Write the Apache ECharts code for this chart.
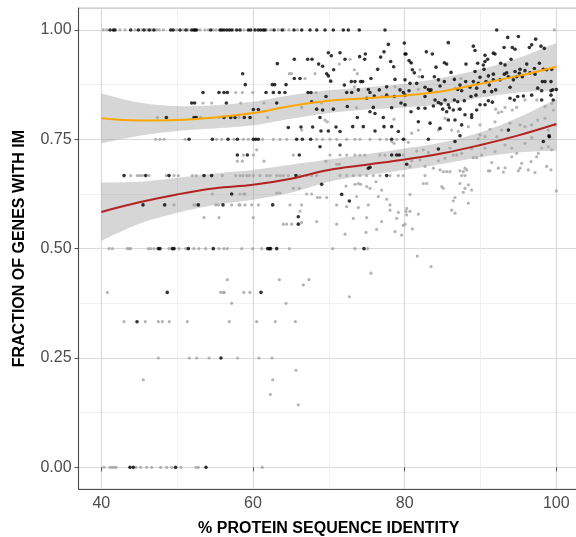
<!DOCTYPE html>
<html>
<head>
<meta charset="utf-8">
<script src="https://cdn.jsdelivr.net/npm/echarts@6/dist/echarts.min.js"></script>
<style>
  html, body { margin: 0; padding: 0; background: #fff; }
  #chart { width: 576px; height: 537px; }
</style>
</head>
<body>
<div id="chart"></div>
<script>
const FONT = 'Liberation Sans, Arial, Helvetica, sans-serif';

// axis ranges and tick labels
const xRange = [37, 103];
const yRange = [-0.05, 1.05];
const xTicks = [40, 60, 80, 100];
const yTicks = [0, 0.25, 0.5, 0.75, 1];

// smooth fits
const fitX = [40, 45, 50, 55, 60, 65, 70, 75, 80, 85, 90, 95, 100];
const orangeFit = [0.798, 0.793, 0.794, 0.800, 0.810, 0.826, 0.838, 0.844, 0.850, 0.860, 0.877, 0.895, 0.916];
const orangeLo = [0.741, 0.758, 0.769, 0.775, 0.782, 0.797, 0.810, 0.818, 0.823, 0.830, 0.845, 0.857, 0.862];
const orangeHi = [0.855, 0.834, 0.826, 0.828, 0.836, 0.851, 0.862, 0.869, 0.877, 0.891, 0.910, 0.936, 0.970];
const redFit = [0.584, 0.606, 0.624, 0.638, 0.646, 0.660, 0.680, 0.692, 0.704, 0.718, 0.737, 0.759, 0.785];
const redLo = [0.518, 0.557, 0.582, 0.600, 0.612, 0.628, 0.653, 0.668, 0.680, 0.694, 0.709, 0.720, 0.724];
const redHi = [0.651, 0.653, 0.662, 0.672, 0.680, 0.692, 0.704, 0.716, 0.729, 0.743, 0.766, 0.800, 0.842];

// black points
const blackPts = [
  [41.15,1],[41.58,1],[41.81,1],[43.88,1],[44.88,1],[45.63,1],[46.33,1],[46.95,1],[49.15,1],[49.49,1],[50.38,1],
  [51.17,1],[51.92,1],[52.22,1],[52.36,1],[52.58,1],[54.43,1],[55.65,1],[55.88,1],[56.18,1],[56.54,1],[56.88,1],
  [57.2,1],[57.86,1],[58.29,1],[59.39,1],[59.7,1],[60.27,1],[60.7,1],[61.02,1],[61.36,1],[61.59,1],[62.78,1],
  [63.85,1],[65.41,1],[66.43,1],[67.52,1],[68.41,1],[69.5,1],[70.6,1],[71.91,1],[72.57,1],[74.02,1],[77.41,1],[92.14,1],
  [77.85,0.967],[79.96,0.970],[80.18,0.945],[69.94,0.948],[71.48,0.948],[70.33,0.941],[74.07,0.939],[74.82,0.945],
  [74.73,0.933],[77.28,0.950],[76.84,0.938],[78.16,0.928],[63.21,0.923],[65.45,0.933],[67.21,0.933],[67.78,0.933],
  [68.66,0.922],[69.19,0.917],[72.14,0.933],[70.64,0.909],[78.55,0.916],[76.44,0.910],[58.64,0.9],[69.72,0.9],
  [69.94,0.895],[65.45,0.889],[66.2,0.889],[70.25,0.883],[72.97,0.882],[73.45,0.882],[74.2,0.882],[74.47,0.882],
  [75.56,0.889],[78.73,0.887],[80.05,0.886],[58.99,0.875],[62.55,0.875],[62.86,0.875],[64.36,0.875],[61.72,0.857],
  [62.69,0.857],[63.48,0.857],[64.22,0.857],[67.26,0.857],[67.65,0.857],[72.05,0.874],[73.9,0.863],[75.21,0.864],
  [75.43,0.857],[76.66,0.863],[77.63,0.87],[79.39,0.863],[79.83,0.857],[72.36,0.857],[73.02,0.857],[69.63,0.848],
  [75.0,0.844],[76.0,0.849],[77.63,0.851],[78.64,0.848],[63.13,0.833],[67.74,0.836],[68.4,0.819],[69.19,0.817],
  [70.6,0.819],[72.44,0.825],[75.87,0.823],[75.43,0.813],[78.29,0.822],[79.52,0.833],[60.05,0.818],[60.71,0.818],
  [58.86,0.8],[59.61,0.8],[68.84,0.8],[73.76,0.8],[76.09,0.809],[77.19,0.8],[64.66,0.777],[66.33,0.778],[67.87,0.778],
  [68.97,0.769],[69.94,0.769],[70.95,0.778],[71.48,0.768],[73.15,0.779],[74.55,0.779],[76.09,0.769],[77.28,0.779],
  [78.29,0.779],[79.17,0.768],
  [60.05,0.75],[60.36,0.75],[60.71,0.75],[65.76,0.75],[66.51,0.75],[67.61,0.75],[78.29,0.75],[79.83,0.75],
  [51.57,0.75],[54.64,0.75],[56.71,0.75],[57.94,0.75],
  [48.58,0.8],[52.22,0.8],[52.53,0.8],[56.18,0.8],[57.06,0.8],[57.63,0.8],
  [51.92,0.833],[52.31,0.833],[56.49,0.833],[53.41,0.857],[55.52,0.857],[56.18,0.857],[56.62,0.857],
  [57.94,0.714],[43.0,0.667],[45.85,0.667],[48.93,0.667],[53.54,0.667],[54.55,0.667],[57.19,0.625],
  [45.5,0.6],[48.36,0.6],[52.8,0.6],[56.05,0.6],
  [47.52,0.5],[47.74,0.5],[49.37,0.5],[49.59,0.5],[51.48,0.5],[54.77,0.5],[61.94,0.5],[62.16,0.5],[62.33,0.5],[63.13,0.5],[74.64,0.5],
  [48.7,0.4],[61.06,0.4],[44.71,0.333],[55.78,0.25],
  [43.78,0],[44.22,0],[49.8,0],[53.8,0],
  [68.84,0.733],[71.48,0.737],[59.26,0.714],[66.11,0.714],[78.29,0.714],[78.95,0.714],[79.3,0.714],[75.21,0.684],
  [75.43,0.686],[77.63,0.667],[65.67,0.667],[69.06,0.647],[71.7,0.624],[72.71,0.609],[62.6,0.6],[65.98,0.573],[65.98,0.556],
  [83.13,0.75],[87.3,0.758],[86.64,0.745],[84.45,0.728],[98.29,0.745],[99.04,0.758],[80.27,0.693],
  [85.76,0.971],[89.06,0.963],[89.28,0.953],[93.59,0.983],[95.0,0.985],[94.2,0.960],[94.56,0.956],[96.45,0.960],
  [96.75,0.966],[97.28,0.979],[97.98,0.963],[98.42,0.958],[93.11,0.960],[82.86,0.950],[83.65,0.945],[90.6,0.942],
  [91.7,0.947],[91.92,0.945],[90.95,0.933],[90.6,0.928],[80.05,0.945],[80.58,0.930],[80.84,0.925],[85.24,0.925],
  [85.54,0.922],[89.63,0.924],[90.38,0.92],[90.47,0.91],[92.67,0.924],[93.24,0.92],[94.03,0.933],[88.09,0.922],
  [84.14,0.915],[95.22,0.91],[96.1,0.922],[97.77,0.924],[97.11,0.912],[81.02,0.909],[81.28,0.902],[82.34,0.893],
  [86.12,0.903],[89.28,0.905],[89.94,0.892],[91.04,0.895],[91.7,0.899],[93.15,0.899],[93.46,0.902],[94.56,0.905],
  [94.78,0.893],[95.13,0.901],[95.87,0.907],[96.53,0.902],[97.19,0.899],[98.29,0.91],[98.73,0.909],[99.39,0.91],
  [83.92,0.893],[84.45,0.886],[86.56,0.887],[85.24,0.882],[87.3,0.874],[88.05,0.882],[89.06,0.882],[89.72,0.878],
  [90.73,0.882],[91.17,0.874],[91.7,0.886],[92.58,0.886],[93.68,0.893],[94.34,0.886],[95.52,0.893],[98.16,0.882],
  [98.51,0.882],[99.3,0.882],[80.71,0.878],[81.59,0.878],[82.69,0.869],[83.13,0.864],[83.48,0.863],[83.35,0.859],
  [84.67,0.872],[87.0,0.864],[87.52,0.861],[88.62,0.869],[89.5,0.867],[90.51,0.859],[91.48,0.859],[92.01,0.863],
  [93.9,0.869],[97.55,0.867],[98.07,0.861],[99.3,0.861],[100,0.864],[80.58,0.861],[80.05,0.851],[82.69,0.848],
  [84.01,0.84],[84.45,0.834],[85.33,0.84],[85.76,0.829],[86.56,0.84],[87.0,0.836],[87.87,0.838],[88.75,0.848],
  [89.41,0.851],[91.04,0.838],[91.57,0.835],[93.9,0.844],[94.47,0.84],[94.91,0.848],[95.66,0.849],[96.75,0.851],
  [98.07,0.84],[99.3,0.851],[99.52,0.863],[81.81,0.821],[82.69,0.821],[83.79,0.826],[84.8,0.831],[85.02,0.819],
  [85.54,0.813],[85.9,0.822],[86.42,0.817],[87.3,0.819],[87.96,0.806],[88.84,0.806],[89.5,0.817],[89.94,0.829],
  [90.6,0.829],[81.81,0.79],[83.35,0.787],[84.67,0.775],[85.76,0.794],[86.64,0.794],[87.52,0.783],[88.84,0.8],
  [80.84,0.813],[80.05,0.829],[93.68,0.771],[99.08,0.756],[99.6,0.84]
];

// grey points
const greyPts = [
  [40.26,1],[40.71,1],[42.47,1],[43.13,1],[44.44,1],[45.33,1],[45.99,1],[46.65,1],[47.31,1],[47.65,1],[48.18,1],
  [49.94,1],[50.81,1],[51.47,1],[53.02,1],[53.68,1],[54.11,1],[54.77,1],[55.13,1],[57.41,1],[58.82,1],[61.81,1],
  [62.34,1],[63.34,1],[64.1,1],[64.75,1],[65.85,1],[99.74,1],
  [71.39,0.922],[72.8,0.933],[64.8,0.9],[65.1,0.9],[68.18,0.9],[73.37,0.909],[73.76,0.9],[66.86,0.889],[59.96,0.857],
  [68.31,0.857],[73.37,0.87],[78.73,0.87],[76.97,0.848],[61.45,0.833],[66.42,0.823],[69.06,0.833],[73.67,0.822],
  [61.94,0.8],[69.5,0.794],[78.6,0.796],[66.42,0.771],[69.8,0.79],
  [58.73,0.75],[59.39,0.75],[61.28,0.75],[62.69,0.75],[63.56,0.75],[64.44,0.75],[68.4,0.75],[69.19,0.75],[70.16,0.75],
  [71.04,0.75],[72.36,0.75],[73.45,0.75],[74.11,0.75],[75.43,0.75],[76.75,0.75],[77.63,0.75],[78.95,0.75],[80.05,0.75],
  [47.17,0.75],[47.74,0.75],[48.27,0.75],[51.04,0.75],[55.21,0.75],[55.87,0.75],[57.5,0.75],
  [47.39,0.8],[53.1,0.8],[55.52,0.8],[58.16,0.8],[53.41,0.833],[54.55,0.833],[58.38,0.833],[57.72,0.857],[58.6,0.857],
  [57.94,0.7],[58.6,0.7],
  [43.87,0.667],[44.75,0.667],[45.06,0.667],[45.41,0.667],[46.29,0.667],[48.58,0.667],[49.59,0.667],[50.16,0.667],
  [52.0,0.667],[52.53,0.667],[55.96,0.667],[57.72,0.667],[58.69,0.667],
  [54.64,0.625],[58.8,0.625],[49.59,0.6],[52.22,0.6],[52.53,0.6],[55.08,0.6],[55.43,0.6],[57.19,0.6],[58.16,0.6],
  [53.54,0.571],[55.52,0.571],
  [41.02,0.5],[41.46,0.5],[43.43,0.5],[43.65,0.5],[43.87,0.5],[46.2,0.5],[46.51,0.5],[46.95,0.5],[48.93,0.5],
  [50.25,0.5],[51.13,0.5],[52.22,0.5],[52.88,0.5],[53.76,0.5],[55.52,0.5],[56.18,0.5],[56.62,0.5],
  [58.51,0.5],[59.96,0.5],[61.15,0.5],[64.8,0.5],[70.51,0.5],[73.45,0.5],[75.12,0.5],
  [40.79,0.4],[55.74,0.4],[56.1,0.4],[56.22,0.4],[56.62,0.429],[58.8,0.4],[59.6,0.4],[63.48,0.429],[57.19,0.375],
  [64.36,0.375],[42.99,0.333],[45.8,0.333],[47.52,0.333],[48.05,0.333],[48.97,0.333],[51.34,0.333],[56.88,0.333],
  [60.49,0.333],[62.95,0.333],[65.59,0.333],[47.52,0.25],[51.61,0.25],[52.57,0.25],[54.2,0.25],[57.98,0.25],
  [60.79,0.25],[62.51,0.25],[45.54,0.2],[65.67,0.222],[62.6,0.2],[62.29,0.167],[65.98,0.143],
  [81.67,0.483],[83.48,0.459],[75.56,0.444],[67.39,0.429],[66.64,0.417],[72.71,0.39],
  [40.35,0],[41.15,0],[41.45,0],[41.72,0],[41.94,0],[44.57,0],[45.19,0],[45.98,0],[46.64,0],[47.83,0],[48.62,0],
  [49.28,0],[50.51,0],[52.49,0],[52.79,0],[61.23,0],
  [78.29,0.745],[78.6,0.741],[60.49,0.726],
  [58.73,0.714],[60.05,0.714],[65.32,0.714],[70.16,0.714],[71.48,0.714],[72.36,0.714],[73.45,0.714],[74.11,0.714],
  [74.77,0.714],[76.75,0.714],[77.41,0.714],[79.83,0.714],
  [61.45,0.7],[69.63,0.7],[71.04,0.693],[71.39,0.693],
  [58.29,0.667],[59.17,0.667],[59.52,0.667],[60.05,0.667],[60.93,0.667],[61.81,0.667],[62.25,0.667],[63.13,0.667],
  [63.56,0.667],[64.0,0.667],[64.66,0.667],[66.2,0.667],[67.08,0.667],[67.74,0.667],[68.4,0.667],[71.48,0.667],
  [72.36,0.667],[73.23,0.667],[74.11,0.667],[74.99,0.667],[75.87,0.667],[76.75,0.667],[78.07,0.667],[79.17,0.667],[79.83,0.667],
  [73.45,0.647],[73.89,0.649],[74.2,0.647],[74.99,0.642],[75.43,0.638],[76.22,0.653],[65.32,0.638],[66.11,0.638],
  [72.27,0.643],[76.97,0.634],[63.13,0.627],[63.56,0.627],[67.08,0.625],[67.74,0.625],[58.29,0.625],[58.95,0.625],
  [68.49,0.617],[68.84,0.617],[69.72,0.617],[73.67,0.619],[76.53,0.619],[77.63,0.613],
  [58.29,0.6],[58.95,0.6],[59.83,0.6],[60.71,0.6],[64.88,0.6],[66.42,0.6],[71.04,0.6],[75.21,0.6],[78.07,0.6],
  [66.2,0.586],[72.36,0.596],[73.89,0.594],[60.05,0.571],[78.07,0.588],[79.17,0.583],[80.18,0.585],[64.0,0.556],
  [64.44,0.556],[65.1,0.556],[66.42,0.56],[68.4,0.562],[71.04,0.556],[73.23,0.569],[74.99,0.571],[76.97,0.562],
  [78.95,0.569],[78.73,0.539],[79.83,0.553],[79.61,0.531],[72.14,0.533],[74.9,0.537],[76.31,0.544],
  [80.71,0.688],[80.93,0.701],[80.49,0.743],[81.59,0.723],[82.47,0.726],[83.13,0.72],[82.03,0.703],[82.69,0.688],
  [83.79,0.684],[84.67,0.68],[85.1,0.676],[85.54,0.676],[85.98,0.676],[86.42,0.714],[86.86,0.714],[87.52,0.718],
  [84.45,0.701],[85.33,0.707],[85.98,0.73],[87.96,0.684],[87.74,0.676],[87.3,0.678],[88.18,0.68],[87.52,0.667],
  [87.96,0.667],[82.69,0.667],[82.47,0.649],[82.91,0.649],[84.89,0.642],[85.1,0.638],[87.3,0.649],[87.96,0.638],
  [88.4,0.646],[88.84,0.634],[87.74,0.629],[80.71,0.624],[86.64,0.617],[86.42,0.609],[88.4,0.604],[86.2,0.588],
  [86.64,0.581],[80.27,0.592],[80.71,0.585],[80.27,0.577],[81.81,0.579],[80.05,0.556],[81.02,0.545],[88.84,0.728],
  [89.06,0.708],[89.5,0.708],[90.16,0.714],[90.6,0.73],[91.48,0.697],[91.92,0.722],[92.36,0.684],[93.02,0.675],
  [93.24,0.685],[91.04,0.678],[91.26,0.678],[93.24,0.737],[94.12,0.73],[94.12,0.71],[94.78,0.718],[95.22,0.684],
  [95.0,0.678],[95.44,0.695],[96.31,0.68],[96.67,0.699],[97.19,0.674],[97.41,0.71],[97.63,0.718],[98.07,0.73],
  [98.73,0.688],[99.3,0.68],[98.95,0.733],[99.39,0.726],[95.87,0.741],[96.75,0.754],[92.14,0.756],[90.6,0.756],
  [89.72,0.751],[89.94,0.76],[100,0.632],
  [80.93,0.924],[82.03,0.909],[81.9,0.893],[87.43,0.889],[86.64,0.867],[81.81,0.864],[87.08,0.819],[85.33,0.798],
  [92.01,0.819],[92.8,0.813],[93.24,0.823],[92.36,0.811],[94.2,0.817],[94.78,0.823],[95.87,0.84],[97.41,0.84],
  [98.51,0.825],[98.51,0.798],[99.39,0.832],[99.61,0.817],[97.55,0.794],[96.75,0.783],[95.87,0.779],[95.22,0.783],
  [93.9,0.787],[91.92,0.79],[91.26,0.773],[89.94,0.783],[88.4,0.779],[87.08,0.768],[86.2,0.771],[81.81,0.771],
  [80.93,0.764],[84.45,0.771],[92.8,0.771],[99.83,0.783],[98.95,0.771]
];

// panel geometry: the plotting panel, the x-label band and the y-label band
const panel = { left: 78.55, top: 8.1, width: 500.5, height: 481.1 };
const xSpan = xRange[1] - xRange[0];
const ySpan = yRange[1] - yRange[0];
const xGrid = {
  left: panel.left + (xTicks[0] - xRange[0]) / xSpan * panel.width,
  width: (xTicks[xTicks.length - 1] - xTicks[0]) / xSpan * panel.width,
  top: panel.top, height: panel.height
};
const yGrid = {
  left: panel.left, width: panel.width,
  top: panel.top + (yRange[1] - yTicks[yTicks.length - 1]) / ySpan * panel.height,
  height: (yTicks[yTicks.length - 1] - yTicks[0]) / ySpan * panel.height
};
const noShrink = { containLabel: false, outerBoundsMode: 'none' };

const majorLine = { color: '#d9d9d9', width: 1.2 };
const minorLine = { color: '#ededed', width: 0.8 };
const labelStyle = { fontSize: 16, color: '#4d4d4d', fontFamily: FONT };
const titleStyle = { fontSize: 16, fontWeight: 'bold', color: '#000', fontFamily: FONT };
const bandColor = 'rgba(153,153,153,0.4)';

function pairs(ys) { return fitX.map((x, i) => [x, ys[i]]); }

// catmull-rom pass over pixel points so the band edges look smooth
function smoothPx(pts, steps) {
  const out = [];
  const n = pts.length;
  for (let i = 0; i < n - 1; i++) {
    const p0 = pts[Math.max(i - 1, 0)], p1 = pts[i], p2 = pts[i + 1], p3 = pts[Math.min(i + 2, n - 1)];
    for (let s = 0; s < steps; s++) {
      const t = s / steps, t2 = t * t, t3 = t2 * t;
      out.push([0, 1].map(k => 0.5 * (2 * p1[k] + (-p0[k] + p2[k]) * t +
        (2 * p0[k] - 5 * p1[k] + 4 * p2[k] - p3[k]) * t2 + (-p0[k] + 3 * p1[k] - 3 * p2[k] + p3[k]) * t3)));
    }
  }
  out.push(pts[n - 1]);
  return out;
}

function bandSeries(lo, hi) {
  return {
    type: 'custom', xAxisIndex: 0, yAxisIndex: 0, silent: true, z: 1,
    data: fitX.map((x, i) => [x, lo[i], hi[i]]),
    encode: { x: 0, y: [1, 2] },
    renderItem: function (params, api) {
      if (params.dataIndex !== 0) return null;
      const top = smoothPx(fitX.map((x, i) => api.coord([x, hi[i]])), 8);
      const bot = smoothPx(fitX.map((x, i) => api.coord([x, lo[i]])), 8);
      return {
        type: 'polygon',
        shape: { points: top.concat(bot.reverse()) },
        style: { fill: bandColor }
      };
    }
  };
}

const chart = echarts.init(document.getElementById('chart'), null, { renderer: 'canvas' });

chart.setOption({
  animation: false,
  backgroundColor: '#ffffff',
  grid: [
    Object.assign({ show: true, borderColor: '#b3b3b3', borderWidth: 1 }, noShrink, panel),
    Object.assign({}, noShrink, xGrid),
    Object.assign({}, noShrink, yGrid)
  ],
  xAxis: [
    {
      gridIndex: 0, type: 'value', min: xRange[0], max: xRange[1],
      axisLine: { show: true, onZero: false, lineStyle: { color: '#4d4d4d', width: 1.1 } },
      axisTick: { show: false }, axisLabel: { show: false }, splitLine: { show: false },
      name: '% PROTEIN SEQUENCE IDENTITY', nameLocation: 'middle', nameGap: 31,
      nameTextStyle: titleStyle
    },
    {
      gridIndex: 1, type: 'value', min: xTicks[0], max: xTicks[xTicks.length - 1], interval: 20,
      axisLine: { show: false },
      axisTick: { show: true, length: 4, lineStyle: { color: '#4d4d4d' } },
      axisLabel: Object.assign({ margin: 6 }, labelStyle),
      splitLine: { show: true, lineStyle: majorLine },
      minorTick: { show: false, splitNumber: 2 },
      minorSplitLine: { show: true, lineStyle: minorLine }
    },
    { gridIndex: 2, type: 'value', min: xRange[0], max: xRange[1], show: false }
  ],
  yAxis: [
    {
      gridIndex: 0, type: 'value', min: yRange[0], max: yRange[1],
      axisLine: { show: true, onZero: false, lineStyle: { color: '#4d4d4d', width: 1.1 } },
      axisTick: { show: false }, axisLabel: { show: false }, splitLine: { show: false },
      name: 'FRACTION OF GENES WITH IM', nameLocation: 'middle', nameGap: 51,
      nameTextStyle: titleStyle
    },
    { gridIndex: 1, type: 'value', min: yRange[0], max: yRange[1], show: false },
    {
      gridIndex: 2, type: 'value', min: yTicks[0], max: yTicks[yTicks.length - 1], interval: 0.25,
      axisLine: { show: false },
      axisTick: { show: true, length: 4, lineStyle: { color: '#4d4d4d' } },
      axisLabel: Object.assign({ margin: 7, padding: [4, 0, 0, 0], formatter: v => v.toFixed(2) }, labelStyle),
      splitLine: { show: true, lineStyle: majorLine },
      minorTick: { show: false, splitNumber: 2 },
      minorSplitLine: { show: true, lineStyle: minorLine }
    }
  ],
  series: [
    bandSeries(orangeLo, orangeHi),
    bandSeries(redLo, redHi),
    {
      type: 'scatter', xAxisIndex: 0, yAxisIndex: 0, data: greyPts,
      symbolSize: 3.2, itemStyle: { color: '#a3a3a3' }, z: 2, silent: true
    },
    {
      type: 'scatter', xAxisIndex: 0, yAxisIndex: 0, data: blackPts,
      symbolSize: 3.6, itemStyle: { color: '#000000' }, z: 3, silent: true
    },
    {
      type: 'line', xAxisIndex: 0, yAxisIndex: 0, data: pairs(orangeFit), smooth: 0.4,
      symbol: 'none', lineStyle: { color: '#ffa500', width: 2 }, z: 4, silent: true
    },
    {
      type: 'line', xAxisIndex: 0, yAxisIndex: 0, data: pairs(redFit), smooth: 0.4,
      symbol: 'none', lineStyle: { color: '#b22222', width: 2 }, z: 4, silent: true
    }
  ]
});
</script>
</body>
</html>
